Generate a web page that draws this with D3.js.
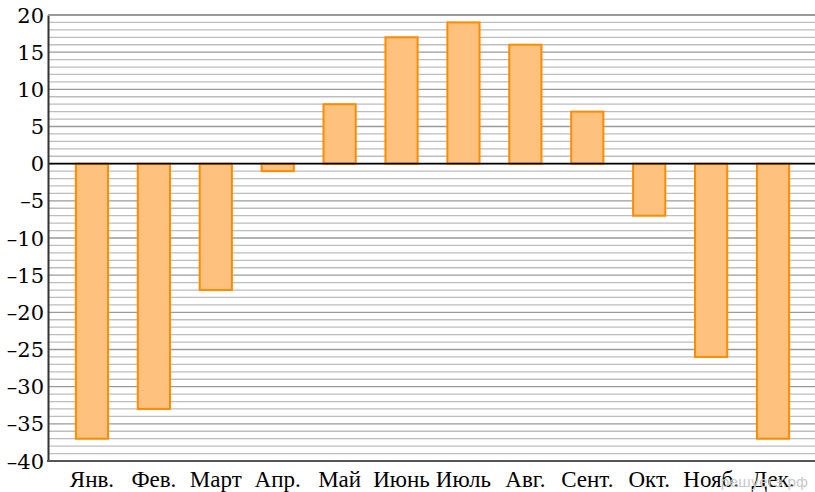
<!DOCTYPE html>
<html>
<head>
<meta charset="utf-8">
<script src="https://cdn.jsdelivr.net/npm/d3@7"></script>
<style>
  body { margin: 0; background: #fff; }
  svg { display: block; }
</style>
</head>
<body>
<div class="chart-wrapper"></div>
<script>
const months = ["Янв.", "Фев.", "Март", "Апр.", "Май", "Июнь", "Июль", "Авг.", "Сент.", "Окт.", "Нояб.", "Дек."]
const temps = [-37, -33, -17, -1, 8, 17, 19, 16, 7, -7, -26, -37]
const yTicks = [20, 15, 10, 5, 0, -5, -10, -15, -20, -25, -30, -35, -40]

const width = 815, height = 492
const margin = {top: 15, right: 0, bottom: 31, left: 48}
const serif = '"Liberation Serif"'
// digits of Liberation Serif come out sans here, so numbers use DejaVu Serif
const numFont = '"DejaVu Serif"'

const svg = d3.select('.chart-wrapper')
  .append('svg')
  .attr('width', width)
  .attr('height', height)

const y = d3.scaleLinear()
  .domain([-40, 20])
  .range([height - margin.bottom, margin.top])

const x = d3.scaleBand()
  .domain(months)
  .range([61, 804])
  .padding(0)

const barW = x.bandwidth() * 0.52

// grid, one line per degree
svg.append('g')
  .selectAll('line')
  .data(d3.range(-40, 21))
  .enter()
  .append('line')
  .attr('x1', margin.left)
  .attr('x2', width)
  .attr('y1', d => y(d))
  .attr('y2', d => y(d))
  .attr('stroke', d => d % 5 === 0 ? '#9a9a9a' : '#bdbdbd')
  .attr('stroke-width', 1.3)

// bars
svg.append('g')
  .selectAll('rect')
  .data(temps)
  .enter()
  .append('rect')
  .attr('x', (d, i) => x(months[i]) + (x.bandwidth() - barW) / 2)
  .attr('y', d => y(Math.max(0, d)))
  .attr('width', barW)
  .attr('height', d => Math.abs(y(d) - y(0)))
  .attr('fill', '#fec17e')
  .attr('stroke', '#ff8c00')
  .attr('stroke-width', 2)

// zero line
svg.append('line')
  .attr('x1', margin.left)
  .attr('x2', width)
  .attr('y1', y(0))
  .attr('y2', y(0))
  .attr('stroke', '#000')
  .attr('stroke-width', 1.6)

// left axis line
const yAxis = svg.append('g')
  .attr('transform', 'translate(' + margin.left + ',0)')
  .call(d3.axisLeft(y).tickValues([]).tickSizeOuter(0))
yAxis.select('.domain').attr('stroke', '#333').attr('stroke-width', 2)

// y tick labels
svg.append('g')
  .selectAll('text')
  .data(yTicks)
  .enter()
  .append('text')
  .attr('x', margin.left - 4)
  .attr('y', d => y(d))
  .attr('dy', '0.36em')
  .attr('text-anchor', 'end')
  .style('font-family', numFont)
  .style('font-size', '21px')
  .style('fill', '#000')
  .text(d => d < 0 ? '\u2013' + Math.abs(d) : String(d))

// bottom line + top line
svg.append('line')
  .attr('x1', margin.left - 1)
  .attr('x2', width)
  .attr('y1', y(-40))
  .attr('y2', y(-40))
  .attr('stroke', '#555')
  .attr('stroke-width', 2)

svg.append('line')
  .attr('x1', margin.left)
  .attr('x2', width)
  .attr('y1', y(20))
  .attr('y2', y(20))
  .attr('stroke', '#999')
  .attr('stroke-width', 2)

// month labels
svg.append('g')
  .selectAll('text')
  .data(months)
  .enter()
  .append('text')
  .attr('x', d => x(d) + x.bandwidth() / 2)
  .attr('y', y(-40) + 26)
  .attr('text-anchor', 'middle')
  .style('font-family', serif)
  .style('font-size', '23px')
  .style('fill', '#000')
  .text(d => d)

// watermark
svg.append('text')
  .attr('x', 808)
  .attr('y', 487)
  .attr('text-anchor', 'end')
  .style('font-family', '"DejaVu Sans"')
  .style('font-size', '14px')
  .style('fill', '#c8c8c8')
  .text('решуегэ.рф')
</script>
</body>
</html>
